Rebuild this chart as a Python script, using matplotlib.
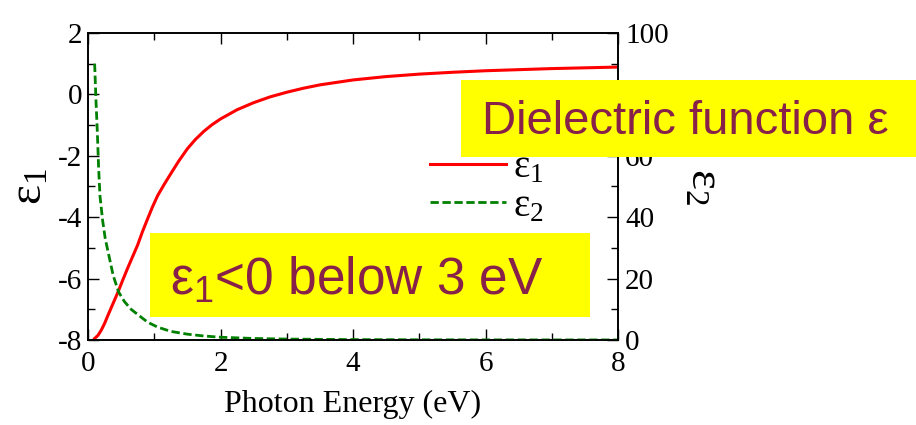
import matplotlib
matplotlib.use('Agg')
import matplotlib.pyplot as plt
from matplotlib.patches import Rectangle
from matplotlib.ticker import MultipleLocator

# values
energy1 = [0.1, 0.15, 0.2, 0.25, 0.3, 0.38, 0.45, 0.52, 0.6, 0.68, 0.75,
           0.82, 0.9, 0.97, 1.05, 1.15, 1.25, 1.37, 1.5, 1.62, 1.75, 1.87,
           2.0, 2.25, 2.5, 2.75, 3.0, 3.25, 3.5, 4.0, 4.5, 5.0, 5.5, 6.0,
           7.0, 8.0]
eps1 = [-7.95, -7.85, -7.68, -7.46, -7.2, -6.8, -6.45, -6.07, -5.65, -5.25,
        -4.9, -4.48, -4.05, -3.68, -3.3, -2.93, -2.58, -2.17, -1.77, -1.47,
        -1.2, -0.99, -0.8, -0.5, -0.27, -0.08, 0.07, 0.2, 0.31, 0.47, 0.58,
        0.66, 0.72, 0.77, 0.84, 0.89]

energy2 = [0.1, 0.12, 0.14, 0.16, 0.18, 0.22, 0.26, 0.31, 0.38, 0.46, 0.55,
           0.65, 0.75, 0.9, 1.05, 1.25, 1.5, 1.75, 2.0, 2.5, 3.0, 4.0, 5.0,
           6.0, 7.0, 8.0]
eps2 = [90, 78, 68, 56, 47, 39, 33, 28, 21, 15.7, 12.5, 10, 8.3, 5.8, 4.2,
        2.8, 1.9, 1.3, 0.9, 0.5, 0.3, 0.13, 0.07, 0.04, 0.03, 0.02]

plt.rcParams['font.family'] = ['Liberation Serif', 'DejaVu Serif']
plt.rcParams['mathtext.fontset'] = 'stix'
plt.rcParams['axes.unicode_minus'] = False

box_color = '#ffff00'
text_color = '#87214a'


def draw():
    fig = plt.figure(figsize=(9.16, 4.25), dpi=100)
    ax = fig.add_axes([0.0961, 0.2, 0.5786, 0.7224])
    ax2 = ax.twinx()

    l1, = ax.plot(energy1, eps1, color='red', lw=2.2,
                  label=r'$\mathregular{ε_1}$')
    l2, = ax2.plot(energy2, eps2, color='green', lw=2, ls=(0, (3, 1.3)),
                   label=r'$\mathregular{ε_2}$')

    ax.set_xlim(0, 8)
    ax.set_ylim(-8, 2)
    ax2.set_ylim(0, 100)

    ax.xaxis.set_major_locator(MultipleLocator(2))
    ax.xaxis.set_minor_locator(MultipleLocator(1))
    ax.yaxis.set_major_locator(MultipleLocator(2))
    ax.yaxis.set_minor_locator(MultipleLocator(1))
    ax2.yaxis.set_major_locator(MultipleLocator(20))
    ax2.yaxis.set_minor_locator(MultipleLocator(10))

    ax.tick_params(which='both', direction='in', top=True, right=False,
                   width=1, labelsize=21)
    ax.tick_params(which='major', length=8)
    ax.tick_params(which='minor', length=5)
    ax.tick_params(axis='x', pad=8)
    ax.tick_params(axis='y', pad=4)
    ax2.tick_params(which='both', direction='in', left=False, width=1,
                    labelsize=21, pad=5)
    ax2.tick_params(which='major', length=8)
    ax2.tick_params(which='minor', length=5)
    for a in (ax, ax2):
        for s in a.spines.values():
            s.set_linewidth(1.2)

    ax.set_xlabel('Photon Energy (eV)', fontsize=23, labelpad=9)
    ax.set_ylabel(r'$\mathregular{ε_1}$', fontsize=34)
    ax2.set_ylabel(r'$\mathregular{ε_2}$', fontsize=34, rotation=270)
    ax.yaxis.set_label_coords(-0.109, 0.5)
    ax2.yaxis.set_label_coords(1.160, 0.5)
    for lab in (ax.yaxis.label, ax2.yaxis.label):
        lab.set_va('center')
        lab.set_ha('center')

    ax2.legend([l1, l2], [l1.get_label(), l2.get_label()], loc='center left',
               bbox_to_anchor=(0.645, 0.498), frameon=False, fontsize=28,
               handlelength=1.95, handletextpad=0.2, labelspacing=0.05,
               borderpad=0, borderaxespad=0)

    # highlighted notes on top of the chart
    fig.patches.append(Rectangle((0.503, 0.6306), 0.497, 0.1812,
                                 transform=fig.transFigure, facecolor=box_color,
                                 edgecolor='none', zorder=5))
    fig.text(0.526, 0.6847, 'Dielectric function ε',
             fontfamily='Liberation Sans', fontsize=34, color=text_color,
             va='baseline', zorder=6)

    fig.patches.append(Rectangle((0.1638, 0.254), 0.480, 0.198,
                                 transform=fig.transFigure, facecolor=box_color,
                                 edgecolor='none', zorder=5))
    fig.text(0.1856, 0.3059, r'$\mathregular{ε_1}$<0 below 3 eV',
             fontfamily='Liberation Sans', fontsize=37, color=text_color,
             va='baseline', zorder=6)

    fig.savefig('out.png', dpi=100)


draw()
